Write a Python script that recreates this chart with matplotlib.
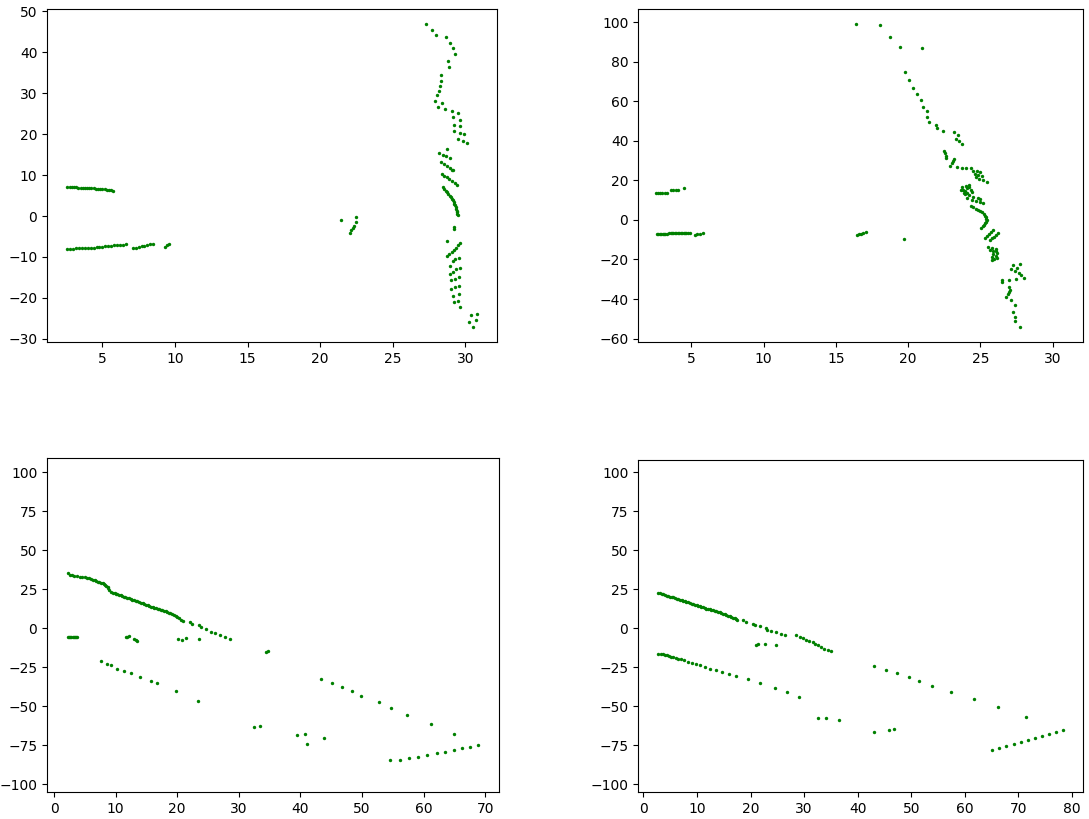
import numpy as np
import matplotlib
matplotlib.use("Agg")
import matplotlib.pyplot as plt

# ---- panel 1 (top left) ----
tl_upper_line = [(2.6, 7.05), (2.75, 7.05), (2.9, 7.0), (3.05, 7.0), (3.2, 7.0), (3.35, 6.95), (3.5, 6.9),
                 (3.65, 6.9), (3.8, 6.85), (3.95, 6.85), (4.1, 6.8), (4.25, 6.8), (4.4, 6.75), (4.55, 6.7),
                 (4.7, 6.65), (4.85, 6.6), (5.0, 6.55), (5.15, 6.5), (5.3, 6.45), (5.45, 6.35), (5.6, 6.3), (5.75, 6.1)]
tl_lower_line = [(2.6, -8.1), (2.8, -8.0), (3.0, -8.0), (3.2, -7.9), (3.4, -7.9), (3.6, -7.85), (3.8, -7.8),
                 (4.0, -7.8), (4.2, -7.75), (4.4, -7.7), (4.6, -7.6), (4.8, -7.55), (5.0, -7.5), (5.2, -7.45),
                 (5.4, -7.35), (5.6, -7.3), (5.8, -7.2), (6.0, -7.1), (6.2, -7.05), (6.4, -7.0), (6.6, -6.95),
                 (7.1, -7.8), (7.3, -7.7), (7.5, -7.6), (7.7, -7.45), (7.9, -7.3), (8.1, -7.1), (8.3, -6.95),
                 (8.5, -6.75), (9.3, -7.5), (9.45, -7.2), (9.6, -6.9)]
tl_middle = [(21.46, -1.0), (22.5, -0.2), (22.45, -1.5), (22.35, -2.5), (22.25, -3.0), (22.15, -3.5), (22.05, -4.1)]
tl_right = [(27.3, 46.9), (27.7, 45.5), (27.95, 44.2), (28.69, 43.8), (28.94, 42.4), (29.15, 41.05), (29.31, 39.7),
            (28.83, 37.8), (28.87, 36.4), (28.29, 34.4), (28.29, 33.1), (28.25, 31.9), (28.18, 30.6), (28.06, 29.5),
            (27.88, 28.2), (28.36, 27.67), (28.13, 26.6), (28.62, 26.2), (29.06, 25.7), (29.5, 25.3), (29.17, 24.1),
            (29.61, 23.5), (29.24, 22.3), (29.61, 21.9), (29.24, 20.85), (29.61, 20.4), (29.93, 19.95), (29.5, 18.8),
            (29.82, 18.4), (30.14, 17.9), (28.73, 16.4), (28.18, 15.4), (28.43, 15.0), (28.69, 14.6), (28.94, 14.1),
            (28.29, 13.2), (28.5, 12.6), (28.76, 12.15), (28.96, 11.65), (29.13, 11.2), (29.08, 11.3),
            (28.39, 10.3), (28.55, 9.9), (28.73, 9.6), (28.9, 9.1), (29.1, 8.5), (29.3, 8.0), (29.43, 7.6),
            (28.46, 7.06), (28.55, 6.6), (28.64, 6.2), (28.73, 5.83), (28.82, 5.4), (28.91, 5.0), (29.0, 4.6),
            (29.07, 4.2), (29.14, 3.8), (29.2, 3.4), (29.25, 3.0), (29.29, 2.6), (29.33, 2.14), (29.37, 1.7),
            (29.4, 1.3), (29.43, 0.9), (29.45, 0.5), (29.46, 0.2), (29.24, -2.6), (29.24, -3.2), (28.73, -6.07),
            (29.66, -6.65), (29.5, -7.2), (29.35, -7.7), (29.2, -8.2), (29.05, -8.7), (28.9, -9.2), (28.75, -9.8),
            (29.54, -10.3), (29.31, -10.6), (29.13, -11.1), (28.96, -12.1), (29.61, -12.8), (29.38, -13.05),
            (29.15, -13.6), (28.92, -14.1), (29.56, -15.0), (29.31, -15.35), (29.01, -15.76), (29.56, -17.0),
            (29.26, -17.3), (29.01, -17.8), (29.54, -18.96), (29.13, -19.45), (29.47, -20.7), (29.24, -20.9),
            (29.61, -22.2), (30.77, -23.9), (30.4, -24.3), (30.7, -25.5), (30.23, -25.9), (30.49, -27.1)]

# ---- panel 2 (top right) ----
tr_left = [(2.52, 13.9), (2.68, 13.9), (2.84, 13.9), (2.98, 13.9), (3.14, 13.9), (3.28, 13.9), (3.55, 14.95),
           (3.73, 14.95), (3.9, 14.95), (4.08, 14.95), (4.5, 15.95),
           (2.58, -6.9), (2.7, -6.9), (2.8, -6.9), (2.9, -6.9), (3.0, -6.9), (3.1, -6.9), (3.2, -6.9), (3.3, -6.9),
           (3.45, -6.5), (3.55, -6.5), (3.65, -6.5), (3.75, -6.5), (3.85, -6.5), (3.95, -6.5), (4.05, -6.5),
           (4.15, -6.5), (4.25, -6.5), (4.35, -6.5), (4.45, -6.5), (4.55, -6.45), (4.65, -6.45), (4.75, -6.4),
           (4.89, -6.4), (5.23, -7.55), (5.4, -7.3), (5.6, -7.0), (5.78, -6.7),
           (16.44, -7.55), (16.6, -7.2), (16.75, -6.9), (16.9, -6.6), (17.09, -6.2), (19.73, -9.7)]
tr_upper = [(16.37, 99.1), (18.08, 98.6), (18.77, 92.4), (19.46, 87.3), (20.95, 86.8), (19.76, 75.1), (20.08, 70.9),
            (20.33, 66.8), (20.63, 63.7), (20.88, 60.5), (21.02, 57.3), (21.32, 55.1), (21.28, 51.9), (21.46, 49.5),
            (21.9, 48.2), (21.97, 46.35), (22.4, 44.8), (23.14, 44.5), (23.44, 43.2), (23.32, 41.0), (23.53, 40.0),
            (23.75, 38.6), (22.45, 35.1), (22.52, 33.8), (22.61, 32.4), (22.61, 31.4), (23.16, 31.1), (23.07, 29.7),
            (23.02, 28.7), (22.91, 27.2), (23.39, 26.7), (23.7, 26.5), (24.0, 26.5), (24.32, 26.2), (24.5, 24.7),
            (24.78, 24.85), (25.0, 24.5), (24.62, 23.5), (24.85, 23.0), (25.08, 22.3), (24.69, 21.5),
            (24.92, 20.65), (25.19, 20.15), (25.42, 19.3)]
tr_core = [(24.23, 17.6), (24.0, 17.1), (23.7, 16.8), (24.09, 15.95), (23.81, 15.1), (23.63, 15.1), (24.32, 15.1),
           (24.09, 13.8), (23.86, 13.4), (24.4, 14.2), (23.95, 14.5), (24.2, 16.5),
           (23.9, 13.0), (24.2, 12.4), (24.5, 11.8), (24.8, 11.2), (25.0, 10.8),
           (24.1, 10.9), (24.4, 10.2), (24.7, 9.5), (24.95, 8.9), (25.15, 8.4),
           (24.32, 7.05), (24.5, 6.4), (24.68, 5.8), (24.85, 5.1), (25.0, 4.4), (25.12, 3.8), (25.22, 3.0),
           (25.3, 2.2), (25.36, 1.4), (25.4, 0.6), (25.42, -0.2), (25.4, -0.9), (25.35, -1.7), (25.28, -2.5),
           (25.18, -3.3), (25.05, -4.2),
           (25.3, -9.0), (25.45, -8.0), (25.6, -7.0), (25.75, -6.0), (25.9, -5.0),
           (25.65, -10.2), (25.8, -9.3), (25.95, -8.4), (26.1, -7.5), (26.25, -6.6)]
tr_lower = [(25.5, -13.6), (25.77, -14.1), (26.1, -14.6), (25.65, -15.0), (25.88, -15.8), (26.11, -15.5),
            (26.16, -16.8), (25.88, -17.1), (26.06, -18.1), (25.77, -18.8), (26.16, -19.3), (25.93, -19.8),
            (25.83, -20.5), (27.26, -22.8), (27.72, -22.3), (27.15, -24.9), (27.54, -24.4), (27.38, -25.7),
            (27.68, -26.9), (27.84, -27.9), (28.02, -29.4), (27.49, -29.9), (26.96, -30.2), (26.46, -30.6),
            (26.52, -31.4), (26.98, -33.9), (27.03, -35.3), (26.99, -36.4), (26.92, -37.5), (26.8, -39.0),
            (27.15, -40.6), (27.4, -43.0), (27.26, -46.5), (27.4, -49.0), (27.4, -51.2), (27.77, -54.1)]

# ---- panel 3 (bottom left) ----
bl_curve_x = [2.2, 2.6, 2.9, 3.3, 3.8, 4.2, 4.5, 5.0, 5.4, 5.7, 6.0, 6.3, 6.6, 6.8, 7.1, 7.3, 7.6, 7.9, 8.1, 8.3,
              8.5, 8.7, 8.8, 9.0, 9.3, 9.6, 9.9, 10.1, 10.3, 10.6, 10.8, 11.1, 11.4, 11.6, 11.9, 12.2, 12.5, 12.7,
              13.0, 13.3, 13.5, 13.8, 14.1, 14.4, 14.6, 14.9, 15.2, 15.4, 15.7, 16.0, 16.2, 16.5, 16.8, 17.0,
              17.3, 17.6, 17.9, 18.1, 18.4, 18.7, 18.9, 19.2, 19.5, 19.8, 20.0, 20.3, 20.6, 21.0,
              22.06, 22.44, 23.52, 23.79, 24.6, 25.5, 26.2, 27.0, 27.8, 28.6]
bl_curve_y = [35.1, 34.3, 34.0, 33.6, 33.3, 33.0, 32.7, 32.5, 32.2, 31.9, 31.4, 30.9, 30.5, 30.0, 29.7, 29.4,
              29.0, 28.6, 28.1, 27.6, 27.0, 26.4, 25.6, 24.6, 23.4, 22.8, 22.2, 21.9, 21.6, 21.3, 20.9, 20.5,
              20.1, 19.8, 19.4, 19.0, 18.6, 18.3, 17.9, 17.5, 17.1, 16.7, 16.2, 15.8, 15.4, 14.9, 14.5, 14.1,
              13.7, 13.3, 13.0, 12.7, 12.4, 12.1, 11.8, 11.4, 11.1, 10.7, 10.3, 9.9, 9.4, 8.9, 8.3, 7.6, 7.0,
              6.3, 5.5, 4.3, 4.1, 2.6, 1.9, 0.9, -0.6, -2.3, -3.4, -4.7, -6.0, -7.3]
bl_small = [(2.2, -6.0), (2.4, -6.0), (2.6, -6.0), (2.8, -6.0), (3.0, -6.0), (3.2, -6.0), (3.4, -6.0), (3.6, -6.0),
            (3.8, -6.0), (11.65, -6.0), (11.9, -5.5), (12.19, -5.1), (13.0, -7.3), (13.3, -7.8), (13.54, -8.1),
            (20.2, -7.0), (20.8, -7.7), (21.4, -6.6), (23.5, -7.0), (34.4, -15.2), (34.7, -14.7)]
bl_far = [(7.6, -21.2), (8.58, -23.1), (9.28, -23.5), (10.3, -25.9), (11.38, -27.6), (12.51, -28.8), (13.97, -31.6),
          (15.8, -34.0), (16.67, -35.3), (19.8, -40.6), (23.35, -46.4), (32.4, -63.2), (33.4, -62.6),
          (39.4, -68.6), (40.7, -68.0), (41.1, -74.4), (43.9, -70.3), (43.3, -32.3), (45.1, -35.3),
          (46.7, -37.6), (48.3, -40.6), (49.8, -43.4), (52.8, -47.4), (54.7, -51.1), (57.3, -55.6),
          (61.2, -61.5), (64.9, -67.9), (54.6, -84.8), (56.1, -84.2), (57.7, -83.1), (59.1, -82.5),
          (60.6, -81.4), (62.1, -80.3), (63.4, -79.1), (64.9, -78.2), (66.2, -77.1), (67.6, -76.1), (68.9, -75.0)]

# ---- panel 4 (bottom right) ----
br_curve_x = [2.76, 3.1, 3.4, 3.7, 4.0, 4.3, 4.6, 4.9, 5.25, 5.55, 5.9, 6.2, 6.5, 6.8, 7.1, 7.4, 7.7, 8.0, 8.35,
              8.65, 9.0, 9.3, 9.6, 9.9, 10.2, 10.5, 10.8, 11.1, 11.45, 11.75, 12.1, 12.4, 12.7, 13.0, 13.3, 13.6,
              13.9, 14.25, 14.55, 14.9, 15.2, 15.5, 15.8, 16.1, 16.4, 16.7, 17.0, 17.3, 17.55,
              18.6, 19.1, 20.45, 20.8, 21.8, 22.8, 23.0, 23.9, 24.8, 25.7, 26.5,
              28.5, 29.15, 29.8, 30.4, 31.0, 31.6, 32.1, 32.6, 33.2, 33.8, 34.4, 35.0]
br_curve_y = [22.65, 22.4, 22.2, 21.8, 21.4, 21.0, 20.7, 20.4, 20.1, 19.8, 19.4, 19.1, 18.8, 18.4, 18.0, 17.7,
              17.3, 17.0, 16.7, 16.3, 15.8, 15.5, 15.2, 14.8, 14.5, 14.2, 13.9, 13.5, 13.0, 12.7, 12.4, 12.2,
              12.0, 11.6, 11.3, 11.0, 10.7, 10.3, 9.8, 9.4, 9.0, 8.6, 8.1, 7.7, 7.3, 6.8, 6.4, 6.0, 5.6,
              5.1, 3.9, 3.0, 2.1, 1.3, 0.2, -1.1, -1.7, -2.6, -3.4, -4.5,
              -4.5, -5.6, -6.4, -7.3, -8.1, -9.0, -9.8, -10.9, -12.0, -13.0, -14.1, -14.7]
br_small = [(21.1, -10.5), (21.4, -9.8), (22.75, -9.8), (24.8, -10.5)]
br_far = [(2.76, -16.2), (3.2, -16.3), (3.6, -16.6), (4.0, -16.9), (4.4, -17.3), (4.8, -17.7), (5.2, -18.1),
          (5.6, -18.5), (6.0, -18.9), (6.5, -19.4), (7.0, -19.9), (7.6, -20.6), (8.3, -21.4), (9.0, -22.1),
          (9.8, -22.9), (10.6, -23.8), (11.5, -24.8), (12.5, -25.8), (13.6, -26.8), (14.7, -27.9),
          (16.0, -29.2), (17.3, -30.4), (19.5, -32.5), (21.8, -35.0), (24.5, -38.2), (26.8, -40.8),
          (29.0, -43.8), (32.5, -57.7), (34.0, -57.7), (36.6, -59.0), (43.1, -66.7), (45.9, -65.4),
          (46.8, -64.7), (43.1, -24.4), (45.3, -26.9), (47.4, -28.8), (49.6, -31.4), (51.5, -34.0),
          (53.9, -37.2), (57.4, -41.0), (61.7, -45.5), (66.2, -50.6), (71.4, -57.0),
          (65.1, -78.2), (66.4, -76.9), (67.7, -75.6), (69.2, -74.4), (70.5, -73.1), (71.8, -71.8),
          (73.1, -70.5), (74.4, -69.2), (75.7, -67.9), (77.0, -66.7), (78.3, -65.4)]


def xy(*groups):
    pts = np.array([p for g in groups for p in g])
    return pts[:, 0], pts[:, 1]


fig = plt.figure(figsize=(10.89, 8.19), dpi=100)
ax1 = fig.add_axes([0.0432, 0.5824, 0.4132, 0.4066])
ax2 = fig.add_axes([0.5859, 0.5824, 0.4086, 0.4066])
ax3 = fig.add_axes([0.0432, 0.0330, 0.4150, 0.4078])
ax4 = fig.add_axes([0.5859, 0.0330, 0.4086, 0.4054])

dot = dict(s=6, c="green", linewidths=0)

x, y = xy(tl_upper_line, tl_lower_line, tl_middle, tl_right)
ax1.scatter(x, y, **dot)

x, y = xy(tr_left, tr_upper, tr_core, tr_lower)
ax2.scatter(x, y, **dot)
ax2.set_xlim(1.3, 32.1)

x, y = xy(bl_small, bl_far)
ax3.scatter(bl_curve_x, bl_curve_y, **dot)
ax3.scatter(x, y, **dot)
ax3.set_ylim(-105, 109)

x, y = xy(br_small, br_far)
ax4.scatter(br_curve_x, br_curve_y, **dot)
ax4.scatter(x, y, **dot)
ax4.set_ylim(-105, 108)

fig.savefig("out.png", dpi=100)
